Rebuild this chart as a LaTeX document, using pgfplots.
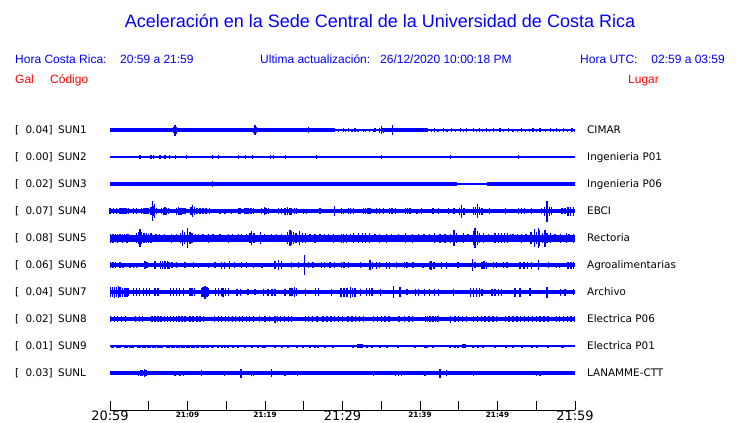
\documentclass[border=0pt]{standalone}
\usepackage{pgfplots}
\pgfplotsset{compat=1.18}
\usepackage{fontspec}
\setmainfont{Liberation Sans}
\newfontfamily\dv{DejaVu Sans}
\definecolor{tblue}{RGB}{0,0,255}
\definecolor{tred}{RGB}{255,0,0}
\newcommand{\spikes}[3][1.4]{\addplot[tblue, line width=#1pt, mark=none, forget plot, -,
  quiver={u=0, v=2*\thisrow{h}}] table[x=t, y expr=#2-\thisrow{h}, row sep=\\] {t h\\ #3\\};}
\newcommand{\band}[4]{\addplot[tblue, line width=#4pt, forget plot] coordinates {(#2,#1) (#3,#1)};}
\begin{document}
\begin{tikzpicture}
\useasboundingbox (0,0) rectangle (740pt,423pt);
\begin{axis}[scale only axis, width=740pt, height=423pt,
  xmin=-14.193548, xmax=81.290323, ymin=0, ymax=423, y dir=reverse,
  hide axis, clip=false]
% ---------- SUN1 ----------
\band{130}{0}{60}{1.2}
\band{130}{0}{29}{3.2}
\band{130}{35}{41}{3.2}
\spikes{130}{1.2 2.2\\3.65 2\\7.2 1.7\\8.17 3\\8.39 5.5\\8.6 3.5\\8.9 2\\9.68 1.7\\13.33 2\\14.8 2\\16.56 1.8\\18.5 2.5\\18.7 5\\18.9 3\\20.2 2\\21.7 1.8\\23 1.8\\23.9 1.8\\25.6 3\\26.45 2\\27.7 1.8\\29 1.8\\30.1 2\\30.75 1.8\\31.6 1.8\\32.7 1.5\\34.2 1.8\\34.8 2.5\\35.05 4.3\\35.27 2.5\\36.43 5.3\\36.8 2\\38.3 1.8\\40 1.7\\41.9 1.8\\43 1.8\\44.1 1.8\\45.2 1.8\\46 1.7\\46.9 1.7\\47.7 1.7\\48.6 1.7\\49.5 1.8\\50.3 1.8\\51.4 1.7\\53.1 1.8\\54.6 1.7\\55.5 1.7\\56.8 1.7\\57.6 1.8\\58.5 1.7\\59.6 1.8\\41.5 1.5\\42.3 1.5\\43.5 1.5\\44.6 1.5\\45.6 1.5\\47.3 1.5\\48.1 1.5\\49 1.5\\50.8 1.5\\52 1.5\\52.6 1.5\\53.6 1.5\\54.1 1.5\\55 1.5\\56.2 1.5\\57.2 1.5\\58 1.5\\59 1.5\\59.9 1.5\\29.5 1.5\\30.4 1.5\\31.2 1.5\\32 1.5\\33 1.5\\33.5 1.5\\34 1.5}
% ---------- SUN2 ----------
\band{157}{0}{60}{1.2}
\spikes[1.2]{157}{3.87 1.8\\5.29 1.8\\5.6 1.8\\6.45 1.8\\7.1 1.8\\7.66 1.8\\8.47 1.8\\9.9 1.8\\13.2 1.8\\14 2.2\\16.56 1.8\\17.5 1.8\\18.4 1.8\\20.7 1.8\\21.1 1.8\\22.6 1.8\\26.6 1.8\\35 1.8\\43.9 1.8\\52.7 1.8}
% ---------- SUN3 ----------
\band{184}{0}{60}{1.2}
\band{184}{0}{44.8}{3.5}
\band{184}{48.7}{60}{3.5}
\spikes{184}{3.87 2.4\\4.86 2.4\\5.16 2\\6.24 2.4\\9.6 2.4\\10.4 2.4\\13.2 2.6\\48.9 2\\49.3 2\\49.7 2\\59.3 2\\59.7 2}
% ---------- SUN4 ----------
\band{211}{0}{60}{4}
\spikes{211}{0 2.7\\0.43 2.7\\0.86 3\\1.3 2.8\\1.5 3.3\\1.7 3\\1.94 3.3\\2.15 2.8\\2.37 3\\3.0 3\\3.44 2.7\\4.09 3\\4.3 2.8\\4.52 3\\4.75 2.8\\4.95 3\\5.29 4\\5.46 10\\5.6 5\\5.72 7\\6.02 3\\6.67 3.2\\6.9 3.5\\7.1 4\\7.3 3.5\\7.53 3.2\\8.6 3.5\\8.82 4\\9.0 3.5\\9.16 3.5\\9.4 3\\9.68 3\\10.45 4\\10.62 6\\10.88 4\\11.2 2.7\\11.6 2.7\\12.0 2.7\\12.4 2.7\\12.8 2.7\\14.2 2.5\\14.84 2.5\\15.7 2.5\\16.56 3\\16.77 3\\17.42 3\\17.7 3\\17.9 3\\18.2 3\\18.5 3\\19.57 3.3\\19.91 3.7\\20.15 3.3\\20.43 3.3\\21.72 3\\22.15 3\\22.58 3.5\\22.92 4\\23.2 3.5\\23.44 3.5\\23.8 3\\24.08 3\\24.95 2.5\\25.37 2.5\\27.1 3\\28.95 5\\29.9 3\\30.1 2.5\\30.75 3.3\\31 3.3\\31.4 3.3\\32.7 3.3\\33 3.3\\33.3 3.3\\33.55 3.3\\34.4 3.3\\34.8 3.3\\35.27 3.3\\36.1 3.3\\36.4 3.3\\36.8 3.3\\38.1 3.3\\38.4 3.3\\38.7 3.3\\39.6 2.5\\40.2 3\\41.7 2.7\\42.4 2.7\\43.7 2.7\\44.4 2.7\\45.1 3.5\\45.38 6.5\\45.7 3.5\\46.9 4\\47.15 4\\47.4 7\\47.7 4\\48 3.5\\49 3\\51 3\\52.7 3.3\\53.1 3.3\\53.5 3\\54.4 3\\55.7 3\\56.1 4.5\\56.4 10.5\\56.7 4.5\\57 4\\58.3 3\\58.7 3\\59.1 4.5\\59.4 4.5\\59.8 4.5}
% ---------- SUN5 ----------
\band{238}{0}{60}{7}
\spikes{238}{0.1 4.5\\0.4 4.5\\0.7 4\\1.0 4.5\\1.3 4\\1.6 4.5\\1.9 4\\2.2 4.5\\2.4 4\\3.4 5\\3.65 6\\3.87 8.7\\4.1 6\\4.4 5\\4.7 5\\5.0 4.5\\5.3 5\\5.95 4\\6.4 4\\7.0 4\\7.96 4.5\\8.6 4\\9.1 5\\9.33 8\\9.6 6\\9.98 10\\10.3 6\\10.6 5\\11.4 4\\12.0 4\\12.7 4.5\\14.2 4\\15.3 4.5\\16.56 4\\17.6 4\\18.05 5\\18.28 6.7\\18.6 5\\19.44 6\\20.86 4\\22.15 4\\22.9 6\\23.2 8\\23.43 7\\23.7 6\\24.0 5\\24.43 7\\24.8 5\\25.2 5\\26.45 4.5\\27.7 4\\28.8 4.5\\29.9 4.5\\30.1 4.5\\30.5 4.5\\31.4 5.3\\32.1 5\\32.6 5\\33.0 5\\33.5 5\\34.8 4.5\\35.7 4.5\\38.1 5.3\\39 4.5\\39.8 4\\41.9 5\\42.6 4.5\\43.2 4.5\\43.9 4.5\\44.4 8\\44.7 5\\45.6 5.3\\46.9 7\\47.1 9.7\\47.4 7\\47.7 5\\48.2 5\\49.7 5\\50.1 5\\50.5 5\\50.9 5\\51.3 5\\52.0 4\\53.1 4.5\\54.3 6\\54.75 9\\55.0 6\\55.27 10\\55.4 8\\55.8 5\\56.13 8.5\\56.4 5\\56.8 5\\58.1 4.5\\58.9 5\\59.8 4.5\\11.0 4\\13.3 4\\15.8 4\\17.0 4\\19.9 4\\21.5 4\\25.8 4\\27.1 4\\28.2 4\\31.0 4\\34.2 4\\36.3 4\\37.2 4\\40.5 4\\41.2 4\\46.2 4\\48.8 4\\51.7 4\\52.6 4\\53.7 4\\57.4 4\\59.2 4}
% ---------- SUN6 ----------
\band{265}{0}{60}{3.6}
\spikes{265}{0.1 3.3\\0.4 3.3\\0.7 3\\1.3 2.7\\1.7 2.5\\2.6 2.5\\3.0 2.5\\3.4 2.5\\4.52 4.2\\4.75 3\\5.8 4\\6.5 4\\6.8 4.3\\7.1 4.3\\7.4 4\\7.6 3.5\\8.0 3\\8.6 3\\9.68 3\\10.75 2.7\\11.4 2.5\\12.7 2.5\\13.55 2.7\\14.4 3.5\\14.8 3.5\\15.4 4.3\\16.1 3\\17 2.7\\17.6 3\\18.5 2.5\\19.6 2.5\\21.3 4\\21.72 5\\22.1 4\\23.4 3\\24.3 2.7\\25.08 10\\25.6 2.7\\26.2 2.7\\27.3 3\\27.7 3\\28.4 3\\29.0 3\\29.9 3\\30.2 3\\30.75 3\\32.3 3\\33.55 5\\33.9 3.5\\34.4 3.5\\34.8 3\\35.7 3.5\\36.1 3.5\\37 3\\38 3\\38.3 3\\39.1 3\\40.4 2.5\\41.2 3.5\\41.4 4.5\\41.8 3.5\\42.8 3.5\\43.4 3.5\\44.9 3\\46.75 6\\47.1 3\\48.0 3.5\\48.26 4.3\\48.6 3.5\\49.5 3\\49.9 3\\50.8 3\\51.2 3\\52.9 3.5\\53.4 3.5\\53.9 3.5\\54.4 3.5\\55.27 5.3\\56.6 2.7\\57.6 2.5\\58 2.5\\59.1 3.5\\59.5 3.5\\59.8 3.5}
% ---------- SUN7 ----------
\band{292}{0}{60}{3.8}
\spikes{292}{0.05 5\\0.3 5\\0.6 5.5\\0.85 5\\1.08 6.3\\1.3 5\\1.6 4.5\\1.94 4.5\\2.2 4.5\\2.4 4\\3.0 4\\3.4 4\\3.8 4\\4.3 4\\4.7 4\\5.1 4\\5.8 4\\6.2 4\\7.8 4\\8.2 4\\8.6 4\\9.0 4\\9.5 4\\10.3 4\\10.6 4\\10.9 4\\11.8 4.5\\12.0 5\\12.26 6.5\\12.5 5\\12.7 4\\13.6 4\\14.0 4\\14.4 4\\14.6 4.5\\14.9 4\\15.3 4\\16.4 3.5\\16.8 3.5\\17.8 3\\18.7 3\\19.8 3.5\\20.4 3.5\\20.9 3.5\\21.3 3.5\\22.6 3.5\\23.2 4.3\\23.5 4.3\\23.8 5\\24.1 4.3\\25.2 3.5\\26.5 4\\26.9 4\\28.6 3.5\\29.8 4.5\\30.2 4.5\\30.6 4.5\\31.0 5.5\\31.3 4.5\\31.6 4.5\\32.3 3.5\\33.1 4\\33.5 4\\33.8 4\\34.9 3.5\\36.56 6\\37.4 5\\38.3 3\\39.4 3.5\\39.8 3.5\\40.6 3.5\\41.2 3.5\\41.9 3.5\\42.4 3.5\\44.3 3.5\\46.5 4.5\\46.9 4.5\\47.3 4.5\\47.7 4.5\\48 3.5\\49.3 3.5\\49.7 3.5\\50.1 3.5\\50.5 3.5\\52.26 4.5\\52.9 4.5\\54.2 4\\56.4 5.5\\58.1 3.5\\58.7 3.5\\59.8 3}
% ---------- SUN8 ----------
\band{319}{0}{60}{4}
\spikes{319}{0.1 2.6\\0.6 2.6\\1.0 2.6\\1.5 2.6\\2.0 2.6\\3.3 2.6\\3.8 2.6\\4.2 2.6\\5.4 2.6\\5.8 2.6\\6.2 2.6\\6.6 2.6\\7.0 2.6\\7.4 3\\7.8 2.6\\8.2 2.6\\8.6 2.6\\8.9 2.6\\9.3 2.6\\9.7 2.6\\10.3 2.6\\10.7 2.6\\11.2 2.6\\11.6 2.6\\12.1 2.6\\13.5 2.6\\14.0 2.6\\14.4 2.6\\14.9 2.6\\15.3 2.6\\15.8 2.6\\16.2 2.6\\16.7 2.6\\17.1 2.6\\17.6 2.6\\18.0 2.6\\18.5 2.6\\19.3 2.6\\20.0 2.6\\20.6 2.6\\21.29 3.5\\21.6 2.6\\22.0 2.6\\22.5 2.6\\23.0 2.6\\23.4 2.6\\25.2 2.6\\25.6 2.6\\26.1 2.6\\26.7 2.6\\27.5 2.6\\28.0 2.6\\28.5 2.6\\29.0 2.6\\29.5 2.6\\30.0 2.6\\30.7 2.6\\31.2 2.6\\31.7 2.6\\32.2 2.6\\32.7 2.6\\34.0 2.6\\34.5 2.6\\35.0 2.6\\35.5 2.6\\36.0 2.6\\37.3 2.6\\38.0 2.6\\38.6 2.6\\39.0 2.6\\40.7 2.8\\41.0 2.8\\41.3 2.8\\41.7 2.8\\42.0 2.8\\42.3 2.8\\43.9 3.5\\44.5 2.6\\45.0 2.6\\45.5 2.6\\46.0 2.6\\46.9 2.6\\47.4 2.6\\47.9 2.6\\48.4 2.6\\48.9 2.6\\49.4 2.6\\49.9 2.6\\51.0 2.6\\51.5 2.6\\52.0 2.6\\52.5 2.6\\53.0 2.6\\53.5 2.6\\54.0 2.6\\54.5 2.6\\55.0 2.6\\55.5 2.6\\56.0 2.6\\56.5 2.6\\57.6 2.6\\58.0 2.6\\58.5 2.6\\59.0 2.6\\59.5 2.6\\59.9 2.6}
% ---------- SUN9 ----------
\band{346}{0}{60}{1.3}
\spikes[2]{346}{0.2 1.5\\0.45 1.5\\0.86 1.5\\1.1 1.5\\1.29 1.5\\1.94 1.5\\2.2 1.5\\2.58 1.5\\2.8 1.5\\3.0 1.5\\3.65 1.5\\3.9 1.5\\4.3 1.5\\4.55 1.5\\4.95 1.5\\5.2 1.5\\5.59 1.5\\5.85 1.5\\6.24 1.5\\6.5 1.5\\6.67 1.5\\7.31 1.5\\7.55 1.5\\7.96 1.5\\8.2 1.5\\8.6 1.5\\8.85 1.5\\9.25 1.5\\9.5 1.5\\9.9 1.5\\10.15 1.5\\10.54 1.5\\10.8 1.5\\11.18 1.5\\11.4 1.5\\11.83 1.5\\12.1 1.5\\12.47 1.5\\12.7 1.5\\13.12 1.5\\13.35 1.5\\13.98 1.5\\14.4 1.5\\14.84 1.5\\15.27 1.5\\15.9 1.5\\16.56 1.5\\17.42 1.5\\18.28 1.5\\19.14 1.5\\19.8 1.5\\20 1.5\\21.29 1.5\\22.15 1.5\\23 1.5\\24.1 1.5\\24.95 1.5\\25.8 1.5\\26.45 1.5\\26.88 1.5\\27.74 1.5\\28.8 1.5\\31.4 1.5\\32.04 2\\32.3 2\\32.5 2\\33.1 1.5\\33.76 1.5\\34.84 1.5\\35.7 1.5\\37.2 1.5\\39.35 1.5\\40.65 1.5\\40.95 1.5\\41.7 1.5\\43.87 1.5\\44.5 1.5\\44.95 1.5\\45.5 2\\45.8 2\\46.88 1.5\\47.53 1.5\\48.17 1.5\\49.68 1.5\\51.05 1.5\\52.04 1.5\\53.12 1.5\\54.4 1.5\\55.05 1.5\\56.56 1.5\\58.28 1.5\\58.5 1.5}
% ---------- SUNL ----------
\band{373}{0}{60}{3.6}
\spikes{373}{3.65 2.5\\4.0 3\\4.2 3\\4.43 3.7\\4.65 3\\5.6 2.3\\6.45 2.3\\8.4 2.5\\9.03 2.5\\9.46 2.5\\11.83 2.7\\14.75 2.5\\16.9 4.5\\18.28 2.5\\18.5 2.5\\19.57 2.3\\20.86 4\\22.58 2.5\\23.2 2.3\\24.2 2.5\\25.4 2\\29.8 2\\30.3 2\\30.9 2\\31.4 2\\32.04 2\\32.6 2\\33.1 2\\34 2.5\\36.8 2.5\\37.2 2.5\\37.6 2.5\\40.65 2.5\\42.58 4.5\\43.44 2.7\\46.88 2.5\\54.2 2.3\\55.05 2.5\\55.5 2.5\\56.35 2.3\\57 2.3\\57.6 2.3\\58.3 2.3\\58.9 2.3\\59.6 2.3}
% ---------- time axis ----------
\addplot[black, line width=1pt, forget plot] coordinates {(0,410) (60,410)};
\addplot[black, line width=1pt, mark=none, forget plot, -, quiver={u=0, v=-9}]
  table[x=t, y expr=410, row sep=\\] {t\\0\\5\\10\\15\\20\\25\\30\\35\\40\\45\\50\\55\\60\\};
\end{axis}
% ---------- texts ----------
\node[anchor=base, inner sep=0, text=tblue, font=\fontsize{18pt}{20pt}\selectfont] at (380pt,395.5pt) {Aceleración en la Sede Central de la Universidad de Costa Rica};
\begin{scope}[every node/.style={inner sep=0, text=tblue, font=\fontsize{12pt}{14pt}\selectfont}]
\node[anchor=base west] at (15pt,359pt) {Hora Costa Rica:};
\node[anchor=base west] at (120pt,359pt) {20:59 a 21:59};
\node[anchor=base west] at (260pt,359pt) {Ultima actualización:};
\node[anchor=base west] at (380pt,359pt) {26/12/2020 10:00:18 PM};
\node[anchor=base west] at (580pt,359pt) {Hora UTC:};
\node[anchor=base east] at (725pt,359pt) {02:59 a 03:59};
\end{scope}
\begin{scope}[every node/.style={inner sep=0, text=tred, font=\fontsize{12pt}{14pt}\selectfont}]
\node[anchor=base west] at (15pt,339pt) {Gal};
\node[anchor=base west] at (50pt,339pt) {Código};
\node[anchor=base west] at (628pt,339pt) {Lugar};
\end{scope}
\begin{scope}[every node/.style={inner sep=0, text=black, font=\dv\fontsize{10.4pt}{12pt}\selectfont}]
\foreach \y/\v/\c/\n in {289.2/0.04/SUN1/CIMAR, 262.2/0.00/SUN2/Ingenieria P01, 235.2/0.02/SUN3/Ingenieria P06, 208.2/0.07/SUN4/EBCI, 181.2/0.08/SUN5/Rectoria, 154.2/0.06/SUN6/Agroalimentarias, 127.2/0.04/SUN7/Archivo, 100.2/0.02/SUN8/Electrica P06, 73.2/0.01/SUN9/Electrica P01, 46.2/0.03/SUNL/LANAMME-CTT}{
  \node[anchor=base west] at (15pt,\y pt) {[};
  \node[anchor=base east] at (53pt,\y pt) {\v]};
  \node[anchor=base west] at (58pt,\y pt) {\c};
  \node[anchor=base west] at (587pt,\y pt) {\n};
}
\end{scope}
\begin{scope}[every node/.style={inner sep=0, text=black}]
\foreach \x/\l in {110/20:59, 342.5/21:29, 575/21:59}{
  \node[anchor=base, font=\dv\fontsize{13pt}{14pt}\selectfont] at (\x pt,2pt) {\l};}
\foreach \x/\l in {187.5/21:09, 265/21:19, 420/21:39, 497.5/21:49}{
  \node[anchor=base, font=\dv\bfseries\fontsize{7.3pt}{8pt}\selectfont] at (\x pt,5pt) {\l};}
\end{scope}
\end{tikzpicture}
\end{document}
